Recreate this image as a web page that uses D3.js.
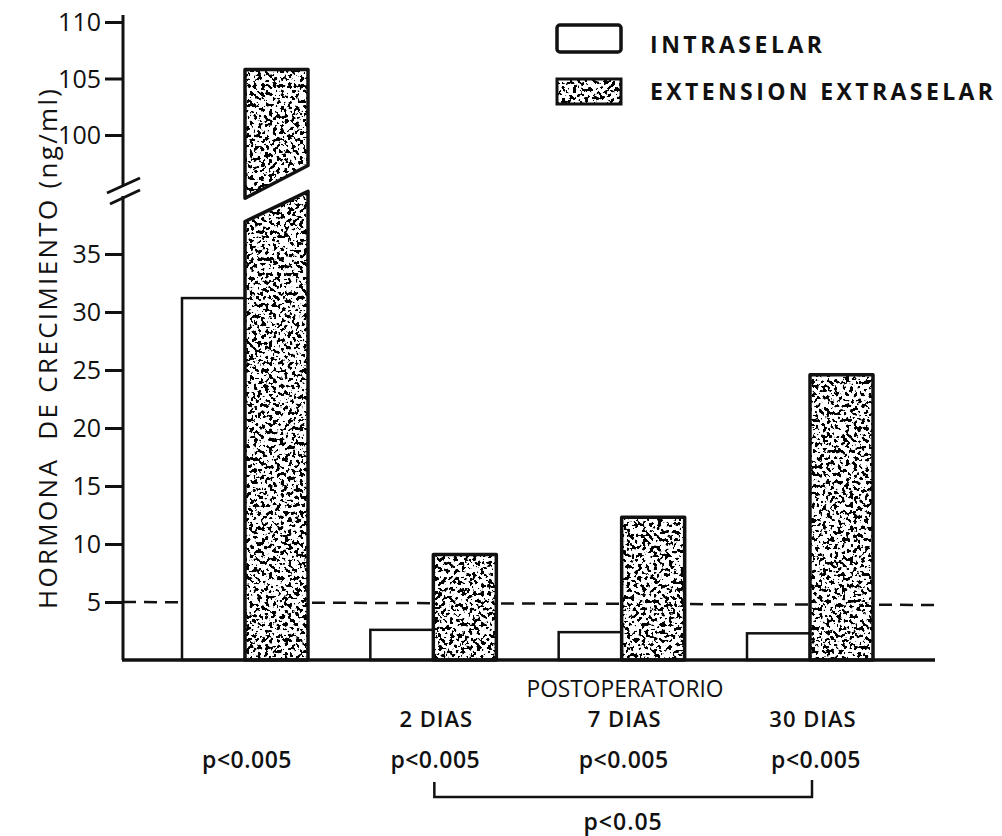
<!DOCTYPE html>
<html>
<head>
<meta charset="utf-8">
<script src="https://cdn.jsdelivr.net/npm/d3@7"></script>
<style>
  html, body { margin: 0; padding: 0; background: #fff; }
  svg { display: block; font-family: "Open Sans", sans-serif; }
  text { fill: #111; }
</style>
</head>
<body>
<svg id="chart" width="1002" height="836"></svg>
<script>
// ---- data ----
const groups = ["PRE", "2 DIAS", "7 DIAS", "30 DIAS"];
const intraselar = [31.2, 2.6, 2.4, 2.3];
const extraselar = [105.8, 9.1, 12.3, 24.6];
const groupLabels = ["", "2 DIAS", "7 DIAS", "30 DIAS"];
const pLabels = ["p<0.005", "p<0.005", "p<0.005", "p<0.005"];
const lowTicks = [5, 10, 15, 20, 25, 30, 35];
const highTicks = [100, 105, 110];
const referenceLevel = 5;
const seriesNames = ["INTRASELAR", "EXTENSION EXTRASELAR"];
const bracketFrom = "2 DIAS", bracketTo = "30 DIAS", bracketLabel = "p<0.05";
const yTitle = "HORMONA\u00A0\u00A0DE CRECIMIENTO (ng/ml)";
const xTitle = "POSTOPERATORIO";

// ---- layout ----
const svg = d3.select("#chart");
const axisX = 123, baseY = 660, rightX = 935;
const yLow = d3.scaleLinear().domain([0, 35]).range([baseY, 254]);
const yHigh = d3.scaleLinear().domain([100, 110]).range([135, 22]);
const x = d3.scalePoint().domain(groups).range([245, 810]);
const barW = 63;

// fit text to a target width: stretch spacing only if naturally shorter
function fit(sel, target) {
  const n = sel.node().getComputedTextLength();
  if (n < target) sel.attr("textLength", target).attr("lengthAdjust", "spacing");
  else sel.attr("textLength", target).attr("lengthAdjust", "spacingAndGlyphs");
  return sel;
}

// stipple texture filter
const defs = svg.append("defs");
const f = defs.append("filter").attr("id", "stipple")
  .attr("filterUnits", "objectBoundingBox").attr("x", 0).attr("y", 0).attr("width", 1).attr("height", 1);
f.append("feFlood").attr("flood-color", "#fff").attr("result", "bg");
f.append("feTurbulence").attr("type", "fractalNoise").attr("baseFrequency", 0.26)
  .attr("numOctaves", 2).attr("seed", 7).attr("result", "noise");
f.append("feColorMatrix").attr("in", "noise").attr("type", "matrix")
  .attr("values", "0 0 0 0 0  0 0 0 0 0  0 0 0 0 0  -30 0 0 0 14.1").attr("result", "dots");
f.append("feComposite").attr("in", "dots").attr("in2", "bg").attr("operator", "over").attr("result", "tex");
f.append("feComposite").attr("in", "tex").attr("in2", "SourceGraphic").attr("operator", "in");

// ---- axes ----
const gLow = svg.append("g").attr("transform", `translate(${axisX},0)`)
  .call(d3.axisLeft(yLow).tickValues(lowTicks).tickSize(18).tickPadding(4));
const gHigh = svg.append("g").attr("transform", `translate(${axisX},0)`)
  .call(d3.axisLeft(yHigh).tickValues(highTicks).tickSize(18).tickPadding(4));
[gLow, gHigh].forEach(g => {
  g.attr("font-family", null).attr("font-size", null);
  g.select(".domain").remove();
  g.selectAll(".tick line").attr("stroke", "#111").attr("stroke-width", 3);
  g.selectAll(".tick text").style("font-size", "25px")
    .attr("fill", "#111").attr("dy", "0.34em");
});
// axis line with break
svg.append("line").attr("x1", axisX).attr("x2", axisX).attr("y1", 15).attr("y2", 185)
  .attr("stroke", "#111").attr("stroke-width", 3);
svg.append("line").attr("x1", axisX).attr("x2", axisX).attr("y1", 196).attr("y2", baseY)
  .attr("stroke", "#111").attr("stroke-width", 3);
svg.append("line").attr("x1", 107).attr("y1", 193).attr("x2", 140).attr("y2", 178)
  .attr("stroke", "#111").attr("stroke-width", 3);
svg.append("line").attr("x1", 110).attr("y1", 204).attr("x2", 140).attr("y2", 190)
  .attr("stroke", "#111").attr("stroke-width", 3);

// y title
fit(svg.append("text").attr("transform", `translate(57,349) rotate(-90)`)
  .attr("text-anchor", "middle").style("font-size", "26px").style("font-weight", 500)
  .text(yTitle), 520);

// reference dashed line
svg.append("line").attr("x1", axisX).attr("x2", rightX)
  .attr("y1", yLow(referenceLevel)).attr("y2", yLow(referenceLevel) + 3)
  .attr("stroke", "#111").attr("stroke-width", 2.5).attr("stroke-dasharray", "13,8");

// ---- bars ----
const bars = svg.append("g");
groups.forEach((gname, i) => {
  const cx = x(gname);
  // intraselar (white)
  bars.append("rect").attr("x", cx - barW).attr("y", yLow(intraselar[i]))
    .attr("width", barW).attr("height", baseY - yLow(intraselar[i]))
    .attr("fill", "#fff").attr("stroke", "#111").attr("stroke-width", 2.5);
  // extraselar (stippled)
  const v = extraselar[i];
  let shapes;
  if (v > 35) {
    shapes = [
      [[cx, baseY], [cx, yLow(37.8)], [cx + barW, yLow(40.4)], [cx + barW, baseY]],
      [[cx, yHigh(94.4)], [cx + barW, yHigh(97.3)], [cx + barW, yHigh(v)], [cx, yHigh(v)]]
    ];
  } else {
    shapes = [[[cx, baseY], [cx, yLow(v)], [cx + barW, yLow(v)], [cx + barW, baseY]]];
  }
  shapes.forEach(pts => {
    const d = "M" + pts.map(p => p.join(",")).join("L") + "Z";
    bars.append("path").attr("d", d).attr("fill", "#000").attr("filter", "url(#stipple)");
    bars.append("path").attr("d", d).attr("fill", "none").attr("stroke", "#111")
      .attr("stroke-width", 3.5).attr("stroke-linejoin", "round");
  });
});

// baseline
svg.append("line").attr("x1", axisX - 1).attr("x2", rightX).attr("y1", baseY).attr("y2", baseY)
  .attr("stroke", "#111").attr("stroke-width", 3.5);

// ---- x labels ----
fit(svg.append("text").attr("x", 625).attr("y", 697).attr("text-anchor", "middle")
  .style("font-size", "23px").text(xTitle), 197);
groups.forEach((gname, i) => {
  if (groupLabels[i]) {
    svg.append("text").attr("x", x(gname) + 3).attr("y", 727).attr("text-anchor", "middle")
      .style("font-size", "22px").style("font-weight", 600).attr("letter-spacing", 1).text(groupLabels[i]);
  }
  svg.append("text").attr("x", x(gname) + (i === 3 ? 6 : 2)).attr("y", 768).attr("text-anchor", "middle")
    .style("font-size", "23px").style("font-weight", 600).attr("letter-spacing", 0.5).text(pLabels[i]);
});

// bracket
const bx1 = x(bracketFrom) + 1, bx2 = x(bracketTo) + 2;
svg.append("path")
  .attr("d", `M${bx1},782V797H${bx2}V780`)
  .attr("fill", "none").attr("stroke", "#111").attr("stroke-width", 2.5);
svg.append("text").attr("x", (bx1 + bx2) / 2).attr("y", 830).attr("text-anchor", "middle")
  .style("font-size", "23px").style("font-weight", 600).attr("letter-spacing", 1).text(bracketLabel);

// ---- legend ----
const legend = svg.append("g");
legend.append("rect").attr("x", 557).attr("y", 25).attr("width", 64).attr("height", 27)
  .attr("rx", 3).attr("fill", "#fff").attr("stroke", "#111").attr("stroke-width", 3.5);
legend.append("rect").attr("x", 557).attr("y", 79).attr("width", 64).attr("height", 25)
  .attr("fill", "#000").attr("filter", "url(#stipple)");
legend.append("rect").attr("x", 557).attr("y", 79).attr("width", 64).attr("height", 25)
  .attr("fill", "none").attr("stroke", "#111").attr("stroke-width", 3);
fit(legend.append("text").attr("x", 650).attr("y", 53).style("font-size", "23px").style("font-weight", 700)
  .text(seriesNames[0]), 172);
fit(legend.append("text").attr("x", 650).attr("y", 100).style("font-size", "23px").style("font-weight", 700)
  .text(seriesNames[1]), 343);
</script>
</body>
</html>
